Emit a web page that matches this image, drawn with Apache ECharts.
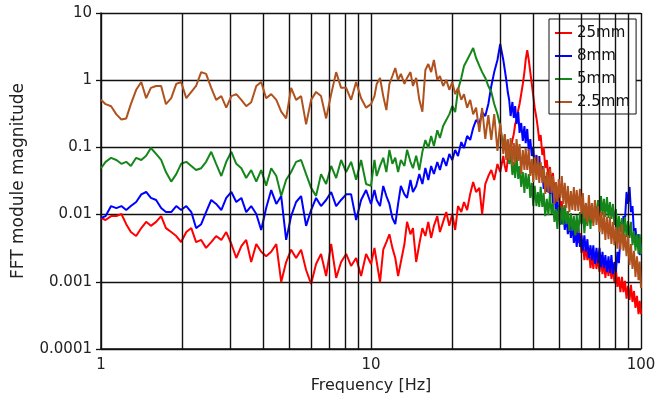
<!DOCTYPE html>
<html><head><meta charset="utf-8">
<script src="https://cdn.jsdelivr.net/npm/echarts@6/dist/echarts.min.js"></script>
<style>html,body{margin:0;padding:0;background:#fff}#c{width:659px;height:412px}</style>
</head><body><div id="c"></div>
<script>
// Frequencies [Hz] shared by all series
const freq = [1.00,1.04,1.09,1.14,1.19,1.24,1.29,1.35,1.41,1.47,1.53,1.60,1.67,1.74,1.82,1.90,1.98,2.07,2.16,2.25,
2.35,2.45,2.56,2.67,2.79,2.91,3.04,3.17,3.31,3.45,3.60,3.76,3.92,4.09,4.27,4.46,4.65,4.85,5.06,5.28,
5.51,5.75,6.00,6.26,6.53,6.82,7.12,7.43,7.75,8.09,8.44,8.81,9.19,9.59,
10.0,10.3,10.5,10.8,11.1,11.4,11.7,12.0,12.3,12.6,12.9,13.3,13.6,14.0,14.3,14.7,15.1,15.5,15.9,16.3,
16.7,17.1,17.6,18.0,18.5,19.0,19.5,20.0,20.5,21.0,21.6,22.1,22.7,23.3,23.9,24.5,25.2,25.8,26.5,27.2,
27.9,28.6,29.4,30.1,
30.9,31.3,31.7,32.1,32.5,32.9,33.4,33.8,34.2,34.6,35.1,35.5,36.0,36.5,37.0,37.4,37.9,38.4,38.9,39.4,
39.9,40.4,41.0,41.5,42.0,42.5,43.1,43.6,44.2,44.8,45.4,46.0,46.6,47.2,47.8,48.4,49.0,49.6,50.3,50.9,
51.6,52.2,52.9,53.6,54.3,55.0,55.7,56.4,57.1,57.8,58.6,59.4,60.2,60.9,61.7,62.5,63.3,64.1,65.0,65.8,
66.6,67.5,68.4,69.3,70.2,71.1,72.0,72.9,73.8,74.8,75.8,76.7,77.7,78.7,79.7,80.7,81.8,82.8,83.9,85.0,
86.1,87.2,88.4,89.5,90.7,91.8,93.0,94.2,95.4,96.6,97.9,98.9,100];

const s25mm = [0.0089,0.0083,0.0095,0.0095,0.0102,0.0072,0.0055,0.0048,0.0063,0.0078,
0.0068,0.0078,0.0095,0.0063,0.0055,0.0048,0.0039,0.0055,0.0063,0.0039,
0.0042,0.0032,0.0039,0.0048,0.0042,0.0055,0.00365,0.00226,0.0034,0.0042,
0.00197,0.00365,0.0028,0.0024,0.0028,0.00365,0.00099,0.00197,0.0030,0.00226,
0.0030,0.0015,0.00093,0.00184,0.0026,0.00122,0.00365,0.00114,0.00197,0.0026,
0.00172,0.00226,0.00122,0.0026,
0.00184,0.0032,0.00197,0.00099,0.0030,0.0039,0.0051,0.0032,0.00226,0.00122,
0.00197,0.00365,0.0078,0.0051,0.0063,0.00197,0.00365,0.0063,0.0048,0.0078,
0.0045,0.0068,0.0095,0.0055,0.0078,0.0109,0.0068,0.0102,0.0059,0.0134,
0.0109,0.0154,0.0117,0.0203,0.0306,0.0217,0.0249,0.0102,0.0285,0.0375,
0.0461,0.0327,0.0566,0.0431,
0.0745,0.0529,0.0431,0.065,0.0798,0.0915,0.129,0.158,0.223,0.256,
0.36,0.442,0.623,0.878,1.32,2.0,2.81,2.0,1.32,0.878,
0.582,0.386,0.274,0.194,0.125,0.153,0.0771,0.101,0.0494,0.065,
0.0339,0.0511,0.0276,0.0416,0.0217,0.0296,0.0159,0.0241,0.0117,0.0159,
0.0086,0.0139,0.0078,0.0109,0.0055,0.0083,0.0049,0.0080,0.0045,0.0063,
0.0038,0.0053,0.0027,0.0039,0.0021,0.0034,0.0021,0.0031,0.0016,0.0026,
0.00155,0.0027,0.00155,0.0023,0.0014,0.00226,0.0013,0.0021,0.00114,0.00184,
0.00122,0.00197,0.0011,0.00172,0.00099,0.0016,0.00084,0.00118,0.0007,0.00118,
0.0007,0.00103,0.00056,0.00087,0.00054,0.0009,0.0005,0.00073,0.00041,0.00062,
0.00033,0.00052,0.00033];

const s8mm = [0.0089,0.0095,0.0134,0.0125,0.0134,0.0117,0.0134,0.0154,0.020,0.0217,
0.0177,0.0165,0.0125,0.0109,0.0109,0.0134,0.0117,0.0134,0.0109,0.0063,
0.0072,0.0109,0.0165,0.0144,0.0117,0.0177,0.0217,0.0154,0.0177,0.0109,
0.0134,0.0102,0.0059,0.0125,0.0232,0.0144,0.0189,0.0042,0.0095,0.0154,
0.0189,0.0068,0.0117,0.0177,0.0134,0.0165,0.0217,0.0134,0.0165,0.020,
0.020,0.0083,0.0165,0.0232,
0.0144,0.0232,0.0165,0.0134,0.0267,0.0189,0.0144,0.0089,0.0072,0.0144,
0.0267,0.020,0.0177,0.0327,0.0217,0.0267,0.0402,0.0285,0.0494,0.0327,
0.0529,0.0402,0.0607,0.0461,0.0696,0.0529,0.0798,0.065,0.0915,0.0745,
0.120,0.098,0.148,0.129,0.194,0.256,0.223,0.336,0.293,0.442,
0.82,1.32,2.0,3.46,
2.0,1.42,1.01,0.667,0.507,0.293,0.474,0.274,0.413,0.223,
0.336,0.164,0.231,0.125,0.208,0.116,0.188,0.0884,0.133,0.0745,
0.101,0.0494,0.0771,0.0445,0.0745,0.0375,0.0529,0.0241,0.0375,0.0217,
0.0351,0.0196,0.0306,0.0149,0.0217,0.0109,0.0171,0.0083,0.0125,0.0072,
0.0113,0.0059,0.0092,0.0051,0.0083,0.0045,0.0075,0.0038,0.0055,0.0033,
0.0063,0.0033,0.0049,0.0029,0.0049,0.0028,0.0043,0.00226,0.0035,0.0021,
0.0035,0.00184,0.0032,0.0019,0.0032,0.00166,0.0028,0.0016,0.0025,0.0014,
0.0024,0.00135,0.0025,0.0013,0.00197,0.0014,0.0028,0.0019,0.0045,0.0039,
0.0095,0.0080,0.0217,0.0144,0.0258,0.0109,0.0134,0.0051,0.0063,0.0035,
0.0051,0.0025,0.0035];

const s5mm = [0.049,0.061,0.070,0.065,0.057,0.061,0.053,0.070,0.065,0.075,
0.098,0.080,0.065,0.043,0.031,0.040,0.057,0.061,0.053,0.046,
0.049,0.061,0.086,0.057,0.0375,0.061,0.086,0.057,0.049,0.035,
0.046,0.031,0.046,0.027,0.049,0.0375,0.019,0.033,0.043,0.061,
0.065,0.040,0.025,0.019,0.040,0.0285,0.053,0.035,0.065,0.043,
0.061,0.033,0.065,0.0285,
0.0267,0.065,0.0375,0.053,0.070,0.043,0.092,0.057,0.070,0.043,
0.065,0.053,0.092,0.061,0.049,0.075,0.046,0.086,0.129,0.098,
0.148,0.105,0.18,0.138,0.208,0.256,0.31,0.413,0.336,0.715,
1.08,1.63,2.0,2.45,3.01,2.14,1.63,1.32,1.08,0.82,
0.667,0.442,0.314,0.208,
0.101,0.153,0.0696,0.129,0.0566,0.0855,0.0388,0.0607,0.0351,0.0771,
0.0339,0.0529,0.0258,0.0431,0.021,0.0416,0.0241,0.0402,0.0177,0.0296,
0.0134,0.0267,0.0134,0.0217,0.0130,0.0258,0.0130,0.021,0.0095,0.0171,
0.0098,0.0203,0.0102,0.0149,0.0078,0.0121,0.0061,0.0130,0.0070,0.0134,
0.0070,0.0139,0.0072,0.0113,0.0057,0.0105,0.0057,0.0095,0.0049,0.0098,
0.0053,0.0109,0.0072,0.0121,0.0053,0.0105,0.0068,0.0130,0.0061,0.0125,
0.0075,0.0149,0.0092,0.0165,0.0089,0.0189,0.0098,0.0171,0.0092,0.0183,
0.0089,0.0154,0.0086,0.0144,0.0070,0.0121,0.0051,0.0095,0.0055,0.0089,
0.0043,0.0092,0.0046,0.0080,0.0045,0.0078,0.0035,0.0057,0.0029,0.0051,
0.0026,0.0051,0.0026];

const s2p5mm = [0.51,0.44,0.41,0.31,0.26,0.27,0.44,0.72,0.94,0.54,
0.77,0.82,0.82,0.44,0.54,0.88,0.94,0.54,0.67,0.82,
1.32,1.24,0.77,0.51,0.58,0.39,0.58,0.62,0.51,0.41,
0.47,0.82,0.94,0.54,0.62,0.51,0.34,0.27,0.77,0.51,
0.58,0.22,0.51,0.67,0.58,0.27,0.62,1.32,0.77,0.77,
0.51,0.94,0.54,0.39,
0.44,0.58,0.88,1.08,0.58,0.36,0.88,1.155,1.52,1.01,
1.24,0.88,1.08,1.32,0.82,1.08,0.51,0.34,1.42,1.74,
1.32,2.0,1.01,1.155,0.82,1.01,0.72,0.94,0.62,0.77,
0.51,0.62,0.39,0.51,0.31,0.39,
0.1696,0.386,0.1334,0.3034,0.1289,0.314,0.0884,0.2307,
0.0798,0.158,0.065,0.133,0.065,0.138,0.0529,0.116,0.0586,0.133,
0.0628,0.1124,0.0402,0.0915,0.0461,0.098,0.0461,0.0947,0.0375,0.0672,
0.0306,0.072,0.0327,0.0745,0.0296,0.0607,0.0296,0.0529,0.0203,0.0431,
0.021,0.0477,0.021,0.0375,0.0144,0.0306,0.0154,0.0339,0.0177,0.0375,
0.0144,0.0296,0.0125,0.0267,0.0109,0.0224,0.0117,0.0258,0.0113,0.0232,
0.0113,0.0241,0.0102,0.021,0.0086,0.0149,0.0075,0.0196,0.0083,0.0149,
0.0068,0.0165,0.007,0.0134,0.0055,0.0109,0.0051,0.0109,0.0042,0.0092,
0.0043,0.0092,0.00365,0.0078,0.0035,0.0065,0.0031,0.0065,0.0030,0.0072,
0.0029,0.0051,0.0024,0.0049,0.00178,0.00365,0.00155,0.0029,0.00118,0.0024,
0.00106,0.0020,0.00081];

const seriesNames = ['25mm', '8mm', '5mm', '2.5mm'];
const seriesValues = [s25mm, s8mm, s5mm, s2p5mm];
const seriesColors = ['#ff0000', '#0000ff', '#15871a', '#b0521e'];
const minorGridX = [2,3,4,5,6,7,8,9,20,30,40,50,60,70,80,90];
const xTickLabels = ['1', '10', '100'];
const yTickLabels = ['0.0001', '0.001', '0.01', '0.1', '1', '10'];

const FONT = 'DejaVu Sans';
function fmt(v) { return String(Number(Number(v).toPrecision(1))); }
function pairs(vals) {
  if (vals.length !== freq.length) console.error('length mismatch', vals.length, freq.length);
  return freq.map((f, i) => [f, vals[i]]);
}

const chart = echarts.init(document.getElementById('c'), null, {renderer: 'canvas'});
const series = [{
  name: '_grid', type: 'line', data: [], z: 1, silent: true,
  markLine: {
    silent: true, symbol: ['none', 'none'], animation: false,
    label: {show: false},
    lineStyle: {color: '#111', type: 'solid', width: 1.4},
    data: minorGridX.map(v => ({xAxis: v}))
  }
}];
seriesNames.forEach((n, i) => {
  series.push({
    name: n, type: 'line', data: pairs(seriesValues[i]), showSymbol: false, symbol: 'none',
    color: seriesColors[i], lineStyle: {width: 2, color: seriesColors[i]}, z: 2 + i,
    emphasis: {disabled: true}
  });
});

chart.setOption({
  animation: false,
  backgroundColor: '#fff',
  grid: {left: 101, right: 18, top: 13, bottom: 63, containLabel: false},
  legend: {
    data: seriesNames, orient: 'vertical', left: 549, top: 19,
    padding: [5, 6, 3, 6], itemGap: 5, itemWidth: 17, itemHeight: 2, icon: 'rect',
    backgroundColor: '#fff', borderColor: '#111', borderWidth: 1,
    textStyle: {fontFamily: FONT, fontSize: 15, color: '#111', padding: [0,0,0,0], lineHeight: 18}
  },
  xAxis: {
    type: 'log', logBase: 10, min: 1, max: 100,
    name: 'Frequency [Hz]', nameLocation: 'middle', nameGap: 28,
    nameTextStyle: {fontFamily: FONT, fontSize: 16, color: '#222'},
    axisLine: {lineStyle: {color: '#111', width: 1.5}},
    axisTick: {show: false},
    axisLabel: {fontFamily: FONT, fontSize: 15, color: '#222', margin: 9, formatter: fmt},
    splitLine: {show: true, lineStyle: {color: '#111', width: 1.4}}
  },
  yAxis: {
    type: 'log', logBase: 10, min: 0.0001, max: 10,
    name: 'FFT module magnitude', nameLocation: 'middle', nameGap: 74,
    nameTextStyle: {fontFamily: FONT, fontSize: 17, color: '#222'},
    axisLine: {show: true, lineStyle: {color: '#111', width: 1.5}},
    axisTick: {show: true, length: 5, lineStyle: {color: '#111', width: 1.3}},
    axisLabel: {fontFamily: FONT, fontSize: 15, color: '#222', margin: 9, formatter: fmt},
    splitLine: {show: true, lineStyle: {color: '#111', width: 1.4}}
  },
  series: series
});
</script></body></html>
